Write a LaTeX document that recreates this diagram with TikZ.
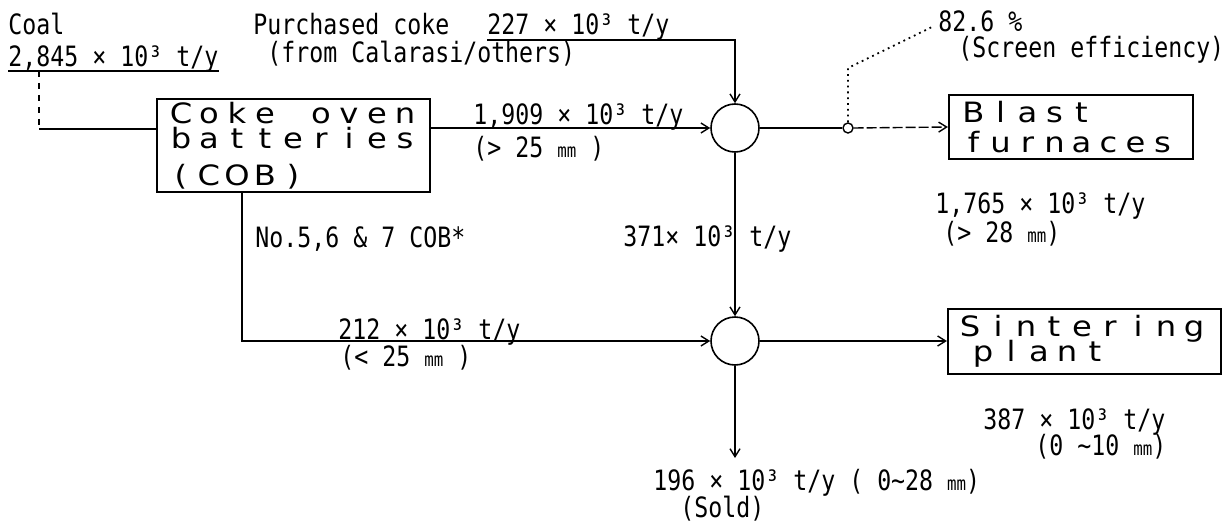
\documentclass[tikz,border=0pt]{standalone}
\usepackage{fontspec}
\usetikzlibrary{arrows.meta}
\newfontfamily\labf[FakeStretch=0.83]{DejaVu Sans Mono}
\newfontfamily\boxf[FakeStretch=1.15]{DejaVu Sans}
\newcommand\mmu{{\fontsize{9.5}{9.5}\selectfont mm}}
\newlength\pitchlen
\newcommand\spc[2][14pt]{\setlength\pitchlen{#1}\spcloop#2\relax}
\def\spcloop#1{\ifx\relax#1\else\makebox[\pitchlen][c]{#1}\expandafter\spcloop\fi}
\tikzset{
  lab/.style={font=\labf\fontsize{14}{16}\selectfont, inner sep=0pt, anchor=base west},
  proc/.style={draw, line width=1.1pt, font=\boxf\fontsize{14}{14}\selectfont, align=left, inner ysep=0pt},
  junc/.style={draw, circle, line width=0.8pt, minimum size=24pt, inner sep=0pt},
  tap/.style={draw, circle, line width=0.7pt, minimum size=5pt, inner sep=0pt},
  flow/.style={line width=0.7pt},
  arr/.style={-{Straight Barb[length=4pt,width=5pt]}},
  dotline/.style={dotted, line width=0.9pt},
  dashline/.style={dash pattern=on 5pt off 1.5pt, line width=0.7pt},
}
\begin{document}
\begin{tikzpicture}[x=0.5pt,y=-0.5pt]
\useasboundingbox (0,0) rectangle (1225,524);

% process boxes
\node[proc, minimum width=136.5pt, minimum height=46.5pt, text width=126.5pt, inner xsep=4pt] (cob) at (293.5,145.5)
  {\spc{Coke~oven}\\[-1.5pt]\spc{batteries}\\[4.5pt]\spc{(COB)}};
\node[proc, minimum width=122pt, minimum height=32pt, text width=111pt, inner xsep=5.5pt] (bf) at (1071,127)
  {\spc[13.5pt]{Blast}\\[1pt]\spc[13.5pt]{furnaces}};
\node[proc, minimum width=136.5pt, minimum height=32.5pt, text width=128.5pt, inner xsep=4pt] (sp) at (1084.5,341.5)
  {\spc{Sintering}\\[-1.5pt]\hspace*{6.5pt}\spc{plant}};

% junctions
\node[junc] (j1) at (735,128) {};
\node[junc] (j2) at (735,341) {};
\node[tap] (tap) at (848,128) {};

% coal input
\node[lab] (coal) at (8,35) {Coal};
\node[lab] (coalq) at (8,67) {2,845 × 10³ t/y};
\draw[flow] ([yshift=-2pt]coalq.base west) -- ([yshift=-2pt]coalq.base east);
\coordinate (coalout) at (39,71);
\coordinate (coalbend) at (39,129);
\draw[flow, dashed] (coalout) -- (coalbend);
\draw[flow] (coalbend) -- (coalbend -| cob.west);

% purchased coke
\node[lab] (pc) at (253,35) {Purchased coke};
\node[lab] (pcfrom) at (267,63) {(from Calarasi/others)};
\node[lab] (pcq) at (487,35) {227 × 10³ t/y};
\draw[flow, arr] ([yshift=-2.5pt]pcq.base west) -| (j1.north);

% COB -> j1
\draw[flow, arr] (cob.east |- j1) -- (j1.west);
\node[lab] (q1909) at (473,125) {1,909 × 10³ t/y};
\node[lab] (s1909) at (473,157) {(> 25 \mmu\ )};

% j1 -> blast furnaces
\draw[flow] (j1.east) -- (tap.west);
\draw[dashline, arr] (tap.east) -- (bf.west);
\node[lab] (eff) at (938,32) {82.6 \%};
\node[lab] (effl) at (958,58) {(Screen efficiency)};
\coordinate (effbend) at (848,68);
\draw[dotline] (tap.north) -- (effbend) -- ([xshift=-2pt,yshift=3pt]eff.base west);
\node[lab] (bfq) at (935,213) {1,765 × 10³ t/y};
\node[lab] (bfs) at (943,242) {(> 28 \mmu)};

% j1 -> j2
\draw[flow, arr] (j1.south) -- (j2.north);
\node[lab] (q371) at (623,246) {371× 10³ t/y};

% COB -> j2
\draw[flow, arr] ([xshift=43pt]cob.south west) |- (j2.west);
\node[lab] (cobs) at (255,247) {No.5,6 \& 7 COB*};
\node[lab] (q212) at (338,339) {212 × 10³ t/y};
\node[lab] (s212) at (340,366) {(< 25 \mmu\ )};

% j2 -> sintering
\draw[flow, arr] (j2.east) -- (sp.west |- j2);
\node[lab] (spq) at (983,429) {387 × 10³ t/y};
\node[lab] (sps) at (1035,455) {(0 \textasciitilde 10 \mmu)};

% j2 -> sold
\coordinate (soldend) at (735,458);
\draw[flow, arr] (j2.south) -- (soldend);
\node[lab] (soldq) at (653,490) {196 × 10³ t/y ( 0\textasciitilde 28 \mmu)};
\node[lab] (sold) at (680,517) {(Sold)};
\end{tikzpicture}
\end{document}
